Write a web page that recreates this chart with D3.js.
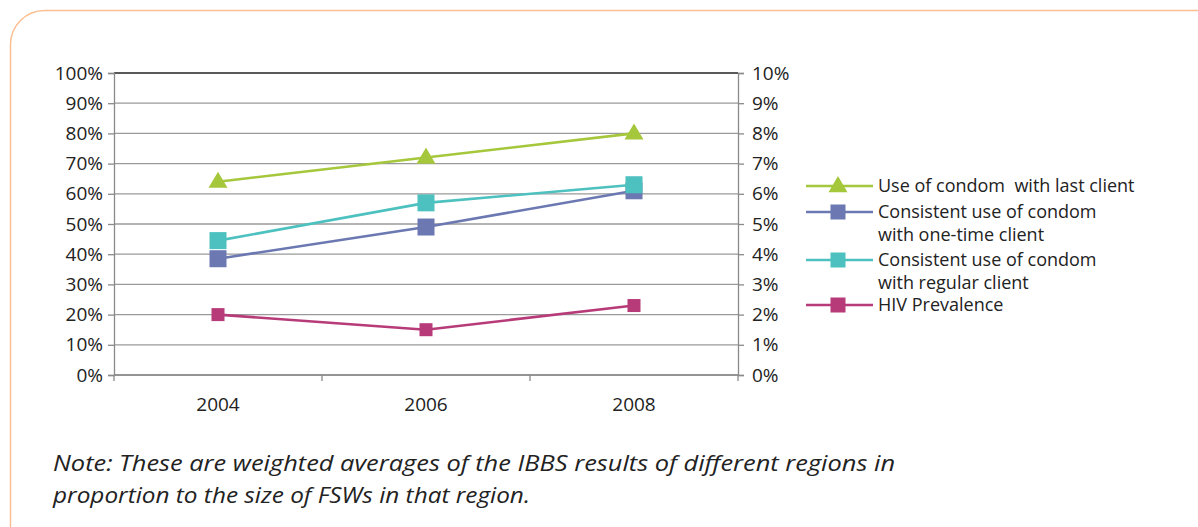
<!DOCTYPE html>
<html><head><meta charset="utf-8">
<script src="https://cdn.jsdelivr.net/npm/d3@7"></script>
<style>html,body{margin:0;padding:0;background:#fff;}svg{display:block;} .pre{white-space:pre;}</style>
</head><body>
<svg id="c" width="1198" height="527"></svg>
<script>
const years = ["2004","2006","2008"];
const lastClient = [0.64, 0.72, 0.80];
const oneTime = [0.385, 0.49, 0.61];
const regular = [0.445, 0.57, 0.63];
const hivPrev = [0.020, 0.015, 0.023];
const leftTicks = [0,0.1,0.2,0.3,0.4,0.5,0.6,0.7,0.8,0.9,1.0];
const rightTicks = [0,0.01,0.02,0.03,0.04,0.05,0.06,0.07,0.08,0.09,0.10];
const seriesNames = [["Use of condom  with last client"],["Consistent use of condom","with one-time client"],["Consistent use of condom","with regular client"],["HIV Prevalence"]];
const noteLines = ["Note: These are weighted averages of the IBBS results of different regions in","proportion to the size of FSWs in that region."];

const svg = d3.select("#c");
const font = "'Open Sans', sans-serif";
// border
svg.append("rect").attr("x",10.5).attr("y",10.5).attr("width",1220).attr("height",560).attr("rx",34).attr("ry",34)
  .attr("fill","none").attr("stroke","#FBBE92").attr("stroke-width",1.5);

const L=114, R=738, T=73, B=375;
const x = d3.scaleBand().domain(years).range([L,R]).padding(0);
const yL = d3.scaleLinear().domain([0,1]).range([B,T]);
const yR = d3.scaleLinear().domain([0,0.1]).range([B,T]);
const cx = d => x(d)+x.bandwidth()/2;

// gridlines
svg.append("g").selectAll("line").data(leftTicks).join("line")
  .attr("x1",L).attr("x2",R).attr("y1",d=>yL(d)).attr("y2",d=>yL(d))
  .attr("stroke",d=>d===1?"#222":"#9a9a9a").attr("stroke-width",1.3);

// left axis
const ga = svg.append("g").attr("transform",`translate(${L},0)`)
  .call(d3.axisLeft(yL).tickValues(leftTicks).tickFormat(d3.format(".0%")).tickSize(6).tickPadding(5));
ga.select(".domain").attr("stroke","#8a8a8a").attr("stroke-width",1.3);
ga.selectAll(".tick line").attr("stroke","#8a8a8a").attr("stroke-width",1.3);
ga.selectAll("text").attr("font-family",font).attr("font-size",19).attr("fill","#222");

// right axis
const gr = svg.append("g").attr("transform",`translate(${R},0)`)
  .call(d3.axisRight(yR).tickValues(rightTicks).tickFormat(d3.format(".0%")).tickSize(6).tickPadding(8));
gr.select(".domain").attr("stroke","#8a8a8a").attr("stroke-width",1.3);
gr.selectAll(".tick line").attr("stroke","#8a8a8a").attr("stroke-width",1.3);
gr.selectAll("text").attr("font-family",font).attr("font-size",19).attr("fill","#222");

// bottom axis
svg.append("line").attr("x1",L).attr("x2",R).attr("y1",B).attr("y2",B).attr("stroke","#8a8a8a").attr("stroke-width",1.3);
const edges = years.map(d=>x(d)).concat([x(years[years.length-1])+x.bandwidth()]);
svg.append("g").selectAll("line").data(edges).join("line")
  .attr("x1",d=>d).attr("x2",d=>d).attr("y1",B).attr("y2",B+6).attr("stroke","#8a8a8a").attr("stroke-width",1.3);
svg.append("g").selectAll("text").data(years).join("text")
  .attr("x",d=>cx(d)).attr("y",411).attr("text-anchor","middle")
  .attr("font-family",font).attr("font-size",19).attr("fill","#222").text(d=>d);

const series = [
  {vals:lastClient, color:"#A5C73B", shape:"tri", size:17, y:yL},
  {vals:oneTime, color:"#6B78B1", shape:"sq", size:17, y:yL},
  {vals:regular, color:"#4DC1BF", shape:"sq", size:17, y:yL},
  {vals:hivPrev, color:"#B73B78", shape:"sq", size:13, y:yR}
];
const line = (s)=>d3.line().x((d,i)=>cx(years[i])).y(d=>s.y(d));
function marker(g, shape, size, color){
  if(shape==="tri"){
    const h=size*0.95;
    g.append("path").attr("d",`M0,${-h*0.62}L${size/2+1},${h*0.38}L${-size/2-1},${h*0.38}Z`).attr("fill",color);
  } else {
    g.append("rect").attr("x",-size/2).attr("y",-size/2).attr("width",size).attr("height",size).attr("fill",color);
  }
}
series.forEach(s=>{
  svg.append("path").datum(s.vals).attr("d",line(s)).attr("fill","none").attr("stroke",s.color).attr("stroke-width",2.6);
  s.vals.forEach((v,i)=>{
    const g = svg.append("g").attr("transform",`translate(${cx(years[i])},${s.y(v)})`);
    marker(g,s.shape,s.size,s.color);
  });
});

// legend
const legY = [186, 212, 260, 305];
series.forEach((s,i)=>{
  const g = svg.append("g").attr("transform",`translate(0,${legY[i]})`);
  g.append("line").attr("x1",806).attr("x2",873).attr("y1",0).attr("y2",0).attr("stroke",s.color).attr("stroke-width",2.6);
  const m = g.append("g").attr("transform","translate(838,0)");
  marker(m,s.shape,s.shape==="tri"?17:15,s.color);
  seriesNames[i].forEach((t,j)=>{
    g.append("text").attr("class","pre").attr("x",878).attr("y",6+j*23).attr("font-family",font).attr("font-size",18).attr("fill","#222").text(t);
  });
});

// note
noteLines.forEach((t,i)=>{
  svg.append("text").attr("x",53).attr("y",471+i*32).attr("font-family",font).attr("font-style","italic")
    .attr("font-size",21.5).attr("fill","#222").attr("textLength", i===0?842:477).attr("lengthAdjust","spacingAndGlyphs").text(t);
});
</script>
</body></html>
